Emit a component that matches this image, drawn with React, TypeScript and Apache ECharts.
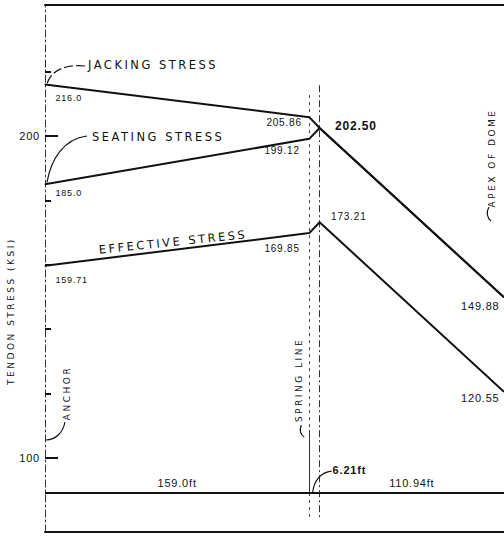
import React, { useEffect, useRef } from "react";
import * as echarts from "echarts";

// ---------------- data ----------------
// distance along the tendon: anchor, spring line, spring line + 6.21 ft, apex of dome
const DISTANCE_FT = [0, 159.0, 165.21, 276.15];
const JACKING_KSI = [216.0, 205.86, 202.5, 149.88];
const SEATING_KSI = [185.0, 199.12, 202.5, 149.88];
const EFFECTIVE_KSI = [159.71, 169.85, 173.21, 120.55];
const JACKING_TEXT = ["216.0", "205.86", "202.50", "149.88"];
const SEATING_TEXT = ["185.0", "199.12", "", ""];
const EFFECTIVE_TEXT = ["159.71", "169.85", "173.21", "120.55"];
const SEGMENT_FT = [159.0, 6.21, 110.94];
const SEGMENT_TEXT = ["159.0ft", "6.21ft", "110.94ft"];
const Y_MAJOR = [100, 200];
const Y_MINOR = [120, 140, 160, 180, 220];
const CURVE_NAMES = ["JACKING STRESS", "SEATING STRESS", "EFFECTIVE STRESS"];
const Y_TITLE = "TENDON STRESS (KSI)";
const MARKER_NAMES = ["ANCHOR", "SPRING LINE", "APEX OF DOME"];

// ---------------- layout / style ----------------
const Y_MIN = 77.0;
const Y_MAX = 240.7;
const INK = "#111";
const NUM_FONT = "Liberation Sans";
const WORD_FONT = "DejaVu Sans";
// [position, dx, dy, fontSize, bold]
type Lbl = [string, number, number, number, boolean] | null;
const JACKING_LBL: Lbl[] = [
  ["right", 10, 13, 9, false],
  ["left", -7, 5, 10, false],
  ["right", 15, -2, 12, true],
  ["left", -4, 9, 11, false],
];
const SEATING_LBL: Lbl[] = [["right", 10, 9, 9, false], ["left", -9, 12, 10, false], null, null];
const EFFECTIVE_LBL: Lbl[] = [
  ["right", 10, 14, 9, false],
  ["left", -9, 15, 10, false],
  ["right", 11, -6, 10, false],
  ["left", -4, 6, 11, false],
];
// vertical extents (ksi) of the reference lines and level of the dimension line
const SPRING_DOTTED_TOP = 212.7;
const SPRING_SOLID_TOP = 108.7;
const DIM_LEVEL = 89.1;
const REF_LINE_BOTTOM = 80.7;
const KINK_LINE_TOP = 215.8;

function buildData(vals: number[], texts: string[], lbls: Lbl[]) {
  return vals.map((v, i) => {
    const l = lbls[i];
    const t = texts[i];
    return {
      value: [DISTANCE_FT[i], v],
      label:
        l && t
          ? {
              show: true,
              formatter: t,
              position: l[0],
              distance: 0,
              offset: [l[1], l[2]],
              fontSize: l[3],
              fontWeight: l[4] ? "bold" : "normal",
              fontFamily: NUM_FONT,
              color: INK,
            }
          : { show: false },
    };
  });
}

function lineSeries(name: string, vals: number[], texts: string[], lbls: Lbl[], extra: any = {}) {
  return {
    name,
    type: "line",
    xAxisIndex: 0,
    yAxisIndex: 0,
    data: buildData(vals, texts, lbls),
    symbol: "circle",
    symbolSize: 1,
    showSymbol: true,
    itemStyle: { color: INK },
    lineStyle: { color: INK, width: 2 },
    silent: true,
    z: 5,
    ...extra,
  };
}

export default function App() {
  const ref = useRef<HTMLDivElement>(null);
  useEffect(() => {
    if (!ref.current) return;
    const chart = echarts.init(ref.current, null, { renderer: "svg" });
    const plainX = {
      type: "value",
      min: DISTANCE_FT[0],
      max: DISTANCE_FT[3],
      axisTick: { show: false },
      axisLabel: { show: false },
      splitLine: { show: false },
    };
    const dimLabel = (text: string) => ({
      show: true,
      formatter: text,
      position: "insideMiddleTop",
      distance: 5,
      color: INK,
      fontSize: 11,
      fontFamily: NUM_FONT,
    });
    const dimStyle = { type: "solid", color: INK, width: 2 };
    const option: any = {
      animation: false,
      grid: { left: 45, right: 0, top: 5, bottom: 4, containLabel: false, outerBoundsMode: "none" },
      xAxis: [
        { ...plainX, position: "bottom", axisLine: { show: true, lineStyle: { color: INK, width: 2 } } },
        { ...plainX, position: "top", axisLine: { show: true, lineStyle: { color: INK, width: 2 } } },
      ],
      yAxis: [
        {
          type: "value",
          min: Y_MIN,
          max: Y_MAX,
          position: "left",
          axisLine: { show: true, lineStyle: { color: "#333", width: 1, type: [7, 3, 2, 3] } },
          axisTick: { show: true, inside: true, length: 13, customValues: Y_MAJOR, lineStyle: { color: INK, width: 2 } },
          axisLabel: {
            show: true,
            customValues: Y_MAJOR,
            margin: 5,
            color: INK,
            fontSize: 11,
            fontFamily: NUM_FONT,
          },
          splitLine: { show: false },
        },
        {
          type: "value",
          min: Y_MIN,
          max: Y_MAX,
          position: "left",
          axisLine: { show: false },
          axisTick: { show: true, inside: true, length: 6, customValues: Y_MINOR, lineStyle: { color: INK, width: 2 } },
          axisLabel: { show: false },
          splitLine: { show: false },
        },
      ],
      series: [
        lineSeries(CURVE_NAMES[0], JACKING_KSI, JACKING_TEXT, JACKING_LBL),
        lineSeries(CURVE_NAMES[1], SEATING_KSI, SEATING_TEXT, SEATING_LBL),
        lineSeries(CURVE_NAMES[2], EFFECTIVE_KSI, EFFECTIVE_TEXT, EFFECTIVE_LBL, {
          markLine: {
            silent: true,
            symbol: ["none", "none"],
            label: { show: false },
            data: [
              [
                { coord: [DISTANCE_FT[1], SPRING_DOTTED_TOP], lineStyle: { type: [3, 4], color: "#444", width: 1 } },
                { coord: [DISTANCE_FT[1], SPRING_SOLID_TOP] },
              ],
              [
                { coord: [DISTANCE_FT[1], SPRING_SOLID_TOP], lineStyle: { type: "solid", color: "#333", width: 1 } },
                { coord: [DISTANCE_FT[1], DIM_LEVEL] },
              ],
              [
                { coord: [DISTANCE_FT[1], DIM_LEVEL], lineStyle: { type: [3, 4], color: "#444", width: 1 } },
                { coord: [DISTANCE_FT[1], REF_LINE_BOTTOM] },
              ],
              [
                { coord: [DISTANCE_FT[2], KINK_LINE_TOP], lineStyle: { type: [7, 3, 2, 3], color: "#333", width: 1 } },
                { coord: [DISTANCE_FT[2], REF_LINE_BOTTOM] },
              ],
              // dimension line
              [
                { coord: [DISTANCE_FT[0], DIM_LEVEL], lineStyle: dimStyle, label: dimLabel(SEGMENT_TEXT[0]) },
                { coord: [DISTANCE_FT[1], DIM_LEVEL] },
              ],
              [
                { coord: [DISTANCE_FT[1], DIM_LEVEL], lineStyle: dimStyle },
                { coord: [DISTANCE_FT[2], DIM_LEVEL] },
              ],
              [
                { coord: [DISTANCE_FT[2], DIM_LEVEL], lineStyle: dimStyle, label: dimLabel(SEGMENT_TEXT[2]) },
                { coord: [DISTANCE_FT[3], DIM_LEVEL] },
              ],
            ],
          },
        }),
      ],
    };
    chart.setOption(option);

    const px = (x: number, y: number) =>
      chart.convertToPixel({ xAxisIndex: 0, yAxisIndex: 0 }, [x, y]) as number[];
    const pJ = px(DISTANCE_FT[0], JACKING_KSI[0]);
    const pS = px(DISTANCE_FT[0], SEATING_KSI[0]);
    const pSpring = px(DISTANCE_FT[1], DIM_LEVEL);
    const pKink = px(DISTANCE_FT[2], DIM_LEVEL);
    const pApex = px(DISTANCE_FT[3], DIM_LEVEL);
    const pAnchor = px(DISTANCE_FT[0], DIM_LEVEL);

    const txt = (text: string, x: number, y: number, size: number, opts: any = {}) => ({
      type: "text",
      x,
      y,
      rotation: opts.rotation || 0,
      silent: true,
      z: 10,
      style: {
        text,
        fill: INK,
        fontSize: size,
        fontFamily: opts.family || WORD_FONT,
        fontWeight: opts.bold ? "bold" : "normal",
        align: opts.align || "left",
        verticalAlign: "middle",
        textAlign: opts.align || "left",
        textVerticalAlign: "middle",
      },
    });
    const curve = (x1: number, y1: number, c1x: number, c1y: number, c2x: number, c2y: number, x2: number, y2: number, dash?: number[]) => ({
      type: "bezierCurve",
      silent: true,
      z: 10,
      shape: { x1, y1, cpx1: c1x, cpy1: c1y, cpx2: c2x, cpy2: c2y, x2, y2 },
      style: { stroke: INK, lineWidth: 1.2, fill: "none", lineDash: dash || null },
    });

    const ax = pAnchor[0];
    const graphic = [
      // axis title
      txt(Y_TITLE, 11, 311, 9, { rotation: Math.PI / 2, align: "center" }),
      // curve names
      txt(CURVE_NAMES[0], 88, 65, 11.5),
      curve(85, 66, 62, 64, 51, 72, pJ[0] + 2, pJ[1] - 1, [9, 3]),
      txt(CURVE_NAMES[1], 92, 137, 11.5),
      curve(87, 136, 63, 139, 51, 160, pS[0] + 2, pS[1] - 2),
      txt(CURVE_NAMES[2], 173, 242, 11.5, { rotation: (6 * Math.PI) / 180, align: "center" }),
      // markers
      txt(MARKER_NAMES[0], ax + 22, 393, 9, { rotation: Math.PI / 2, align: "center" }),
      curve(ax + 1, 440, ax + 11, 440, ax + 18, 432, ax + 20, 422),
      txt(MARKER_NAMES[1], pSpring[0] - 10, 380, 9, { rotation: Math.PI / 2, align: "center" }),
      curve(pSpring[0] - 5, 437, pSpring[0] - 9, 435, pSpring[0] - 10, 430, pSpring[0] - 8, 425),
      txt(MARKER_NAMES[2], pApex[0] - 12, 158, 9, { rotation: Math.PI / 2, align: "center" }),
      curve(pApex[0] - 13, 221, pApex[0] - 17, 218, pApex[0] - 18, 212, pApex[0] - 15, 207),
      // 6.21 ft dimension
      txt(SEGMENT_TEXT[1], pKink[0] + 13, 470, 11, { family: NUM_FONT, bold: true }),
      curve(pKink[0] - 7, pKink[1], pKink[0] - 6, pKink[1] - 13, pKink[0] + 2, pKink[1] - 21, pKink[0] + 12, pKink[1] - 22),
    ];
    chart.setOption({ graphic: { elements: graphic } });

    return () => chart.dispose();
  }, []);

  return (
    <>
      <style>{`body{margin:0;background:#fff}
.tendon-chart text[style*="DejaVu"]{letter-spacing:2.5px}
.tendon-chart text[style*="Liberation"]{letter-spacing:0.8px}`}</style>
      <div ref={ref} className="tendon-chart" style={{ width: 504, height: 536 }} />
    </>
  );
}
